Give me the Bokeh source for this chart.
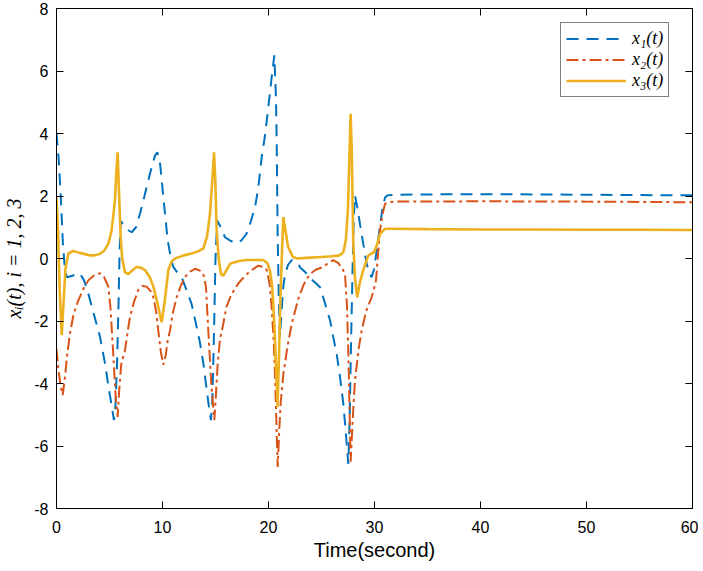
from bokeh.plotting import figure
from bokeh.models import LinearAxis, FixedTicker, Legend, LegendItem
from bokeh.embed import file_html
from bokeh.resources import INLINE

# ---- data ----
t1 = [0, 0.2, 0.4, 0.6, 0.8, 1.0, 1.5, 2.2, 2.6, 3.0, 3.5, 4.1, 4.6, 4.9, 5.2, 5.42,
      5.55, 5.7, 5.85, 5.95, 6.05, 6.3, 6.7, 7.09, 7.5, 7.88, 8.3, 8.66, 9.0, 9.3, 9.51,
      9.75, 9.9, 10.08, 10.49, 10.8, 11.02, 11.4, 11.81, 12.2, 12.74, 13.1, 13.54, 13.85,
      14.17, 14.4, 14.57, 14.7, 14.85, 15.0, 15.16, 15.5, 15.9, 16.5, 17.15, 17.5, 17.94,
      18.3, 18.73, 19.05, 19.36, 19.7, 19.98, 20.3, 20.55, 20.7, 20.77, 20.87, 20.97, 21.08,
      21.25, 21.4, 21.56, 21.85, 22.19, 22.81, 22.97, 23.5, 24.0, 24.5, 24.86, 25.3, 25.8,
      26.1, 26.43, 26.75, 27.06, 27.3, 27.53, 27.65, 27.8, 27.95, 28.05, 28.16, 28.4, 28.63,
      29.0, 29.26, 29.5, 29.73, 29.95, 30.26, 30.5, 30.77, 31.0, 31.21, 32.0, 35, 40, 45,
      50, 55, 60]
x1 = [4.0, 3.2, 2.0, 0.5, -0.4, -0.6, -0.55, -0.47, -0.7, -1.12, -1.75, -2.5, -3.4, -4.1,
      -4.7, -5.17, -4.8, -3.5, -1.5, 0.2, 1.2, 1.1, 0.92, 0.84, 1.0, 1.44, 2.0, 2.5, 2.95,
      3.3, 3.4, 3.1, 2.6, 1.96, 0.58, 0.0, -0.27, -0.45, -0.6, -0.95, -1.45, -2.0, -2.7,
      -3.35, -4.2, -4.8, -5.17, -4.6, -2.5, 0.0, 1.22, 1.0, 0.68, 0.55, 0.5, 0.6, 0.8, 1.15,
      1.64, 2.3, 3.25, 4.0, 4.84, 5.8, 6.5, 5.2, 3.8, 0.6, -1.2, -2.5, -1.6, -0.9, -0.5,
      -0.2, -0.05, -0.15, -0.28, -0.45, -0.65, -0.8, -0.92, -1.4, -1.97, -2.5, -3.05, -3.8,
      -4.65, -5.6, -6.57, -5.2, -2.5, 0.0, 1.3, 2.02, 1.6, 1.1, 0.35, -0.17, -0.45, -0.6,
      -0.35, 0.37, 1.0, 1.65, 1.95, 2.02, 2.04, 2.05, 2.06, 2.05, 2.04, 2.03, 2.02]

t2 = [0, 0.2, 0.4, 0.58, 0.8, 1.0, 1.27, 1.6, 2.06, 2.5, 3.0, 3.5, 4.1, 4.5, 4.89, 5.1,
      5.36, 5.6, 5.77, 5.9, 6.1, 6.46, 6.78, 6.93, 7.3, 7.72, 8.1, 8.5, 8.9, 9.14, 9.4, 9.6,
      9.85, 10.08, 10.3, 10.5, 10.71, 11.0, 11.34, 11.7, 12.12, 12.6, 13.07, 13.5, 13.85,
      14.1, 14.32, 14.6, 14.89, 15.05, 15.2, 15.42, 15.74, 16.02, 16.5, 17.15, 17.8, 18.41,
      19.04, 19.5, 19.83, 20.1, 20.3, 20.5, 20.61, 20.75, 20.87, 21.0, 21.15, 21.4, 21.8,
      22.19, 22.8, 23.3, 23.9, 24.5, 25.17, 25.6, 26.1, 26.6, 27.0, 27.22, 27.4, 27.53,
      27.75, 28.0, 28.16, 28.5, 28.79, 29.2, 29.73, 30.0, 30.14, 30.3, 30.52, 30.75, 30.99,
      31.3, 32.0, 40, 50, 60]
x2 = [-2.9, -3.6, -4.1, -4.37, -3.8, -3.1, -2.4, -1.8, -1.34, -1.0, -0.7, -0.55, -0.47,
      -0.6, -0.9, -1.6, -3.1, -4.5, -5.07, -4.3, -3.4, -2.94, -2.2, -1.88, -1.4, -1.0,
      -0.88, -0.9, -1.05, -1.24, -1.7, -2.3, -3.0, -3.4, -3.1, -2.6, -2.3, -1.7, -1.24,
      -0.9, -0.59, -0.42, -0.33, -0.38, -0.5, -0.9, -2.3, -4.0, -5.17, -4.3, -3.4, -2.6,
      -2.08, -1.56, -1.15, -0.8, -0.55, -0.37, -0.23, -0.27, -0.37, -0.8, -1.56, -2.7,
      -3.68, -5.3, -6.67, -5.6, -4.6, -3.7, -2.8, -2.1, -1.3, -0.85, -0.5, -0.35, -0.27,
      -0.15, -0.05, -0.15, -0.35, -0.5, -1.5, -3.0, -6.5, -4.8, -3.9, -2.9, -2.3, -1.7,
      -1.24, -0.9, -0.7, 0.0, 0.9, 1.4, 1.75, 1.8, 1.82, 1.83, 1.82, 1.8]

t3 = [0, 0.15, 0.3, 0.49, 0.65, 0.85, 1.12, 1.59, 2.2, 3.16, 3.6, 4.1, 4.5, 4.89, 5.2,
      5.4, 5.52, 5.65, 5.77, 5.88, 6.05, 6.2, 6.46, 6.78, 7.09, 7.56, 8.0, 8.35, 8.8, 9.14,
      9.5, 9.92, 10.2, 10.55, 10.85, 11.18, 12.0, 12.74, 13.3, 13.85, 14.2, 14.48, 14.7,
      14.86, 14.98, 15.11, 15.3, 15.52, 15.74, 16.37, 17.2, 17.94, 18.7, 19.51, 19.9, 20.14,
      20.35, 20.55, 20.75, 20.85, 21.0, 21.1, 21.25, 21.4, 21.55, 21.85, 22.3, 22.7, 23.5,
      25.0, 26.0, 26.7, 27.06, 27.3, 27.5, 27.65, 27.75, 27.85, 28.0, 28.15, 28.38, 28.6,
      28.94, 29.42, 29.95, 30.2, 30.52, 30.99, 31.5, 35, 40, 45, 50, 55, 60]
x3 = [2.0, 0.8, -1.0, -2.45, -1.5, -0.3, 0.16, 0.24, 0.18, 0.1, 0.1, 0.15, 0.25, 0.47,
      0.9, 1.5, 1.9, 2.8, 3.4, 2.3, 0.7, 0.0, -0.44, -0.5, -0.4, -0.27, -0.3, -0.37, -0.6,
      -0.9, -1.4, -2.04, -1.4, -0.37, -0.1, 0.0, 0.1, 0.16, 0.22, 0.32, 0.7, 1.43, 2.5,
      3.4, 2.5, 0.9, 0.0, -0.5, -0.55, -0.17, -0.08, -0.05, -0.05, -0.05, -0.15, -0.4,
      -0.9, -2.1, -3.8, -4.75, -3.0, -1.55, 0.0, 1.33, 1.0, 0.37, 0.05, 0.0, 0.02, 0.05,
      0.07, 0.1, 0.2, 0.6, 1.6, 3.5, 4.63, 3.5, 0.5, -0.6, -1.24, -0.8, -0.37, 0.1, 0.2,
      0.4, 0.79, 0.95, 0.95, 0.94, 0.93, 0.93, 0.92, 0.92, 0.91]

x_ticks = [0, 10, 20, 30, 40, 50, 60]
y_ticks = [-8, -6, -4, -2, 0, 2, 4, 6, 8]
y_tick_labels = ["-8", "-6", "-4", "-2", "0", "2", "4", "6", "8"]
legend_labels = ["x\u2081(t)", "x\u2082(t)", "x\u2083(t)"]

# ---- figure ----
p = figure(width=698, height=564, x_range=(0, 60), y_range=(-8, 8),
           output_backend="svg", toolbar_location=None,
           min_border_left=56, min_border_right=6, min_border_top=8, min_border_bottom=56)
p.background_fill_color = "white"
p.border_fill_color = "white"
p.grid.visible = False
p.outline_line_color = "black"
p.outline_line_width = 1

for ax in (p.xaxis[0], p.yaxis[0]):
    ax.major_tick_in = 7
    ax.major_tick_out = 0
    ax.minor_tick_line_color = None
    ax.axis_line_color = "black"
    ax.major_tick_line_color = "black"
    ax.major_label_text_font = "Liberation Sans"
    ax.major_label_text_font_size = "16px"
    ax.major_label_text_color = "black"
    ax.axis_label_text_color = "black"

p.xaxis[0].ticker = FixedTicker(ticks=x_ticks)
p.yaxis[0].ticker = FixedTicker(ticks=y_ticks)
p.yaxis[0].major_label_overrides = {v: s for v, s in zip(y_ticks, y_tick_labels)}
p.xaxis[0].major_label_standoff = 12
p.yaxis[0].major_label_standoff = 8

p.xaxis[0].axis_label = "Time(second)"
p.xaxis[0].axis_label_text_font = "Liberation Sans"
p.xaxis[0].axis_label_text_font_style = "normal"
p.xaxis[0].axis_label_text_font_size = "20px"
p.xaxis[0].axis_label_standoff = 3

p.yaxis[0].axis_label = "x\u1d62(t), i = 1, 2, 3"
p.yaxis[0].axis_label_text_font = "Liberation Serif"
p.yaxis[0].axis_label_text_font_style = "italic"
p.yaxis[0].axis_label_text_font_size = "20px"
p.yaxis[0].axis_label_standoff = 6

top = LinearAxis(ticker=FixedTicker(ticks=x_ticks),
                 major_label_overrides={v: "" for v in x_ticks},
                 major_tick_in=7, major_tick_out=0, major_label_standoff=0,
                 minor_tick_line_color=None, axis_line_color="black")
right = LinearAxis(ticker=FixedTicker(ticks=y_ticks),
                   major_label_overrides={v: "" for v in y_ticks},
                   major_tick_in=7, major_tick_out=0, major_label_standoff=0,
                   minor_tick_line_color=None, axis_line_color="black")
p.add_layout(top, "above")
p.add_layout(right, "right")

r1 = p.line(t1, x1, line_color="#0072BD", line_width=2, line_dash="12 8")
r2 = p.line(t2, x2, line_color="#D95319", line_width=2, line_dash="12 4 3 4")
r3 = p.line(t3, x3, line_color="#EDB120", line_width=2.6)

legend = Legend(items=[LegendItem(label=legend_labels[0], renderers=[r1]),
                       LegendItem(label=legend_labels[1], renderers=[r2]),
                       LegendItem(label=legend_labels[2], renderers=[r3])],
                location=(504, 411))
legend.border_line_color = "black"
legend.border_line_width = 1
legend.background_fill_color = "white"
legend.background_fill_alpha = 1
legend.glyph_width = 60
legend.glyph_height = 17
legend.label_height = 17
legend.label_standoff = 6
legend.padding = 5
legend.spacing = 0
legend.margin = 0
legend.label_text_font = "Liberation Serif"
legend.label_text_font_style = "italic"
legend.label_text_font_size = "18px"
legend.label_text_color = "black"
p.add_layout(legend, "center")

open("out.html", "w").write(file_html(p, INLINE))
